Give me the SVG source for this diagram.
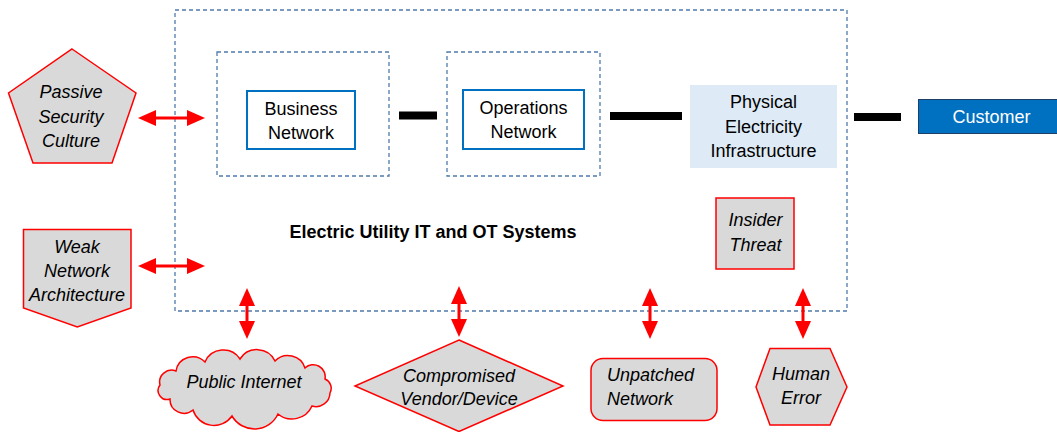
<svg xmlns="http://www.w3.org/2000/svg" width="1057" height="432" viewBox="0 0 1057 432">
<style>
.dash{fill:none;stroke:#4f7bab;stroke-width:1.3;stroke-dasharray:4 3}
.blue{fill:#fff;stroke:#0070c0;stroke-width:2}
.threat{fill:#d9d9d9;stroke:#ff0000;stroke-width:1.5}
.t{font-family:"Liberation Sans",Arial,sans-serif;font-size:18px;fill:#000;text-anchor:middle}
.i{font-style:italic}
.bar{stroke:#000;stroke-width:8}
.arr{stroke:#ff0000;stroke-width:3;marker-start:url(#ah);marker-end:url(#ah)}
</style>
<defs>
<marker id="ah" markerUnits="userSpaceOnUse" markerWidth="18" markerHeight="16" refX="12" refY="8" orient="auto-start-reverse" viewBox="0 0 18 16">
<path d="M0,0 L18,8 L0,16 Z" fill="#ff0000"/>
</marker>
</defs>
<rect width="1057" height="432" fill="#fff"/>

<g id="it-ot-systems">
<rect class="dash" x="175" y="10" width="672" height="301"/>
<text class="t" x="433" y="238" style="font-weight:bold">Electric Utility IT and OT Systems</text>
</g>

<g id="business-network">
<rect class="dash" x="217" y="52" width="172" height="124"/>
<rect class="blue" x="247" y="91" width="108" height="58"/>
<text class="t" x="301" y="115">Business</text>
<text class="t" x="301" y="139">Network</text>
</g>

<g id="operations-network">
<rect class="dash" x="447" y="52" width="153" height="124"/>
<rect class="blue" x="463" y="90" width="121" height="59"/>
<text class="t" x="523.5" y="114">Operations</text>
<text class="t" x="523.5" y="138">Network</text>
</g>

<g id="physical-infrastructure">
<rect x="690" y="85" width="147" height="83" fill="#deebf7"/>
<text class="t" x="763.5" y="108">Physical</text>
<text class="t" x="763.5" y="133">Electricity</text>
<text class="t" x="763.5" y="157">Infrastructure</text>
</g>

<g id="customer">
<rect x="918.5" y="99.5" width="145" height="34" fill="#0070c0" stroke="#1f3f66" stroke-width="1"/>
<text class="t" x="991.5" y="123" style="fill:#fff">Customer</text>
</g>

<g id="insider-threat">
<rect class="threat" x="716" y="198" width="78" height="71"/>
<text class="t i" x="755.5" y="226">Insider</text>
<text class="t i" x="755.5" y="251">Threat</text>
</g>

<g id="passive-security-culture">
<polygon class="threat" points="72,49 136,93 112,163 33,163 8.5,93"/>
<text class="t i" x="71" y="98">Passive</text>
<text class="t i" x="71" y="123">Security</text>
<text class="t i" x="71" y="147">Culture</text>
</g>

<g id="weak-network-architecture">
<polygon class="threat" points="23.5,229.5 131,229.5 131,308 77.3,327 23.5,308"/>
<text class="t i" x="77" y="253">Weak</text>
<text class="t i" x="77" y="277">Network</text>
<text class="t i" x="77" y="301">Architecture</text>
</g>

<g id="public-internet">
<path class="threat" d="M160,385 A12,12 0 0 1 176,371 A17,17 0 0 1 205,362 A20,20 0 0 1 240,359 A20,20 0 0 1 275,361 A18,18 0 0 1 305,368 A12,12 0 0 1 325,379 A10,10 0 0 1 330,393 A14,14 0 0 1 312,406 A22,22 0 0 1 278,414 A26,26 0 0 1 232,416 A22,22 0 0 1 193,410 A14,14 0 0 1 170,399 A9,9 0 0 1 160,385 Z"/>
<text class="t i" x="244" y="388">Public Internet</text>
</g>

<g id="compromised-vendor">
<polygon class="threat" points="459,340 563,386 459,431.5 355,386"/>
<text class="t i" x="459" y="382">Compromised</text>
<text class="t i" x="459" y="405">Vendor/Device</text>
</g>

<g id="unpatched-network">
<rect class="threat" x="591" y="358.5" width="126" height="62" rx="12" ry="12"/>
<text class="t i" x="607" y="381" style="text-anchor:start">Unpatched</text>
<text class="t i" x="607" y="405" style="text-anchor:start">Network</text>
</g>

<g id="human-error">
<polygon class="threat" points="756,387 770,348.5 830,348.5 847,387 830,425 770,425"/>
<text class="t i" x="801" y="380">Human</text>
<text class="t i" x="801" y="404">Error</text>
</g>

<g id="connectors">
<line class="bar" x1="399" y1="115.5" x2="437" y2="115.5"/>
<line class="bar" x1="610" y1="116" x2="682" y2="116"/>
<line class="bar" x1="854" y1="117" x2="901" y2="117"/>
<line class="arr" x1="144" y1="118" x2="199" y2="118"/>
<line class="arr" x1="144" y1="266" x2="199" y2="266"/>
<line class="arr" x1="247" y1="294" x2="247" y2="333"/>
<line class="arr" x1="459" y1="292" x2="459" y2="331"/>
<line class="arr" x1="650" y1="294" x2="650" y2="333"/>
<line class="arr" x1="803" y1="294" x2="803" y2="333"/>
</g>
</svg>
